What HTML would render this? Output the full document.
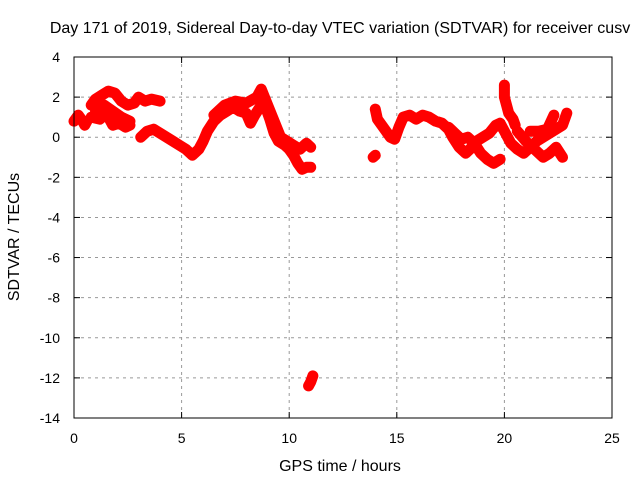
<!DOCTYPE html>
<html><head><meta charset="utf-8"><style>
body{margin:0;background:#fff}
svg text{font-family:"Liberation Sans",sans-serif;font-size:14px;fill:#000}
svg text.big{font-size:16px}
</style></head><body>
<svg id="c" width="640" height="480">
<text class="big" x="340" y="33" text-anchor="middle">Day 171 of 2019, Sidereal Day-to-day VTEC variation (SDTVAR) for receiver cusv</text>
<text class="big" x="340" y="471" text-anchor="middle">GPS time / hours</text>
<text class="big" transform="translate(19,237) rotate(-90)" text-anchor="middle">SDTVAR / TECUs</text>
<g id="grid"></g><g id="marks"></g>
<rect x="74" y="57" width="538" height="361" fill="none" stroke="#000"/>
</svg>
<script>
const xTicks=[0,5,10,15,20,25];
const yTicks=[4,2,0,-2,-4,-6,-8,-10,-12,-14];
const trackA_t=[0.0,0.2,0.4,0.5,0.6];
const trackA_v=[0.8,1.1,0.8,0.6,0.8];
const trackB_t=[0.8,1.0,1.3,1.6,1.9,2.2,2.5,2.8,3.0,3.3,3.6,4.0];
const trackB_v=[1.6,1.9,2.1,2.3,2.2,1.8,1.6,1.7,2.0,1.8,1.9,1.8];
const trackC_t=[0.8,1.2,1.5,1.8,2.1,2.4,2.6];
const trackC_v=[1.0,0.9,1.2,0.6,0.7,0.5,0.6];
const trackC2_t=[1.0,1.4,1.8,2.2,2.6];
const trackC2_v=[1.3,1.6,1.3,1.0,0.8];
const trackD_t=[3.1,3.4,3.7,4.0,4.3,4.6,4.9,5.2,5.5,5.8,6.0,6.2,6.5,6.8,7.1,7.4,7.7,8.0,8.2,8.4,8.7,8.9,9.1,9.3,9.5,9.8,10.0,10.2,10.4,10.6,10.8,11.0];
const trackD_v=[0.0,0.3,0.4,0.2,0.0,-0.2,-0.4,-0.6,-0.9,-0.6,-0.2,0.3,0.8,1.1,1.3,1.5,1.3,1.2,0.7,1.1,1.6,1.5,0.9,0.2,-0.2,-0.4,-0.6,-0.9,-1.3,-1.6,-1.5,-1.5];
const trackD2_t=[6.5,7.0,7.5,8.0,8.5,8.7,9.0,9.3,9.6,9.9,10.2,10.5,10.8,11.0];
const trackD2_v=[1.1,1.6,1.8,1.7,2.0,2.4,1.6,0.8,0.0,-0.2,-0.4,-0.6,-0.3,-0.5];
const spike_t=[10.9,11.0,11.1];
const spike_v=[-12.4,-12.2,-11.9];
const trackE_t=[13.9,14.0];
const trackE_v=[-1.0,-0.9];
const trackF_t=[14.0,14.1,14.3,14.5,14.7,14.9,15.1,15.3,15.6,15.9,16.2,16.5,16.8,17.1,17.4,17.6,17.9,18.2,18.4,18.7,19.0,19.3,19.6,19.8,20.0,20.3,20.6,20.9,21.2,21.5,21.8,22.1,22.4,22.7,22.9];
const trackF_v=[1.4,0.9,0.6,0.3,0.0,-0.1,0.5,1.0,1.1,0.9,1.1,1.0,0.8,0.7,0.4,0.0,-0.5,-0.8,-0.6,-0.2,0.0,0.2,0.6,0.7,0.3,-0.3,-0.6,-0.8,-0.5,-0.2,0.0,0.2,0.4,0.6,1.2];
const trackG_t=[17.4,17.7,18.0,18.3,18.6,18.9,19.2,19.5,19.8];
const trackG_v=[0.5,0.2,-0.1,0.0,-0.3,-0.8,-1.1,-1.3,-1.1];
const trackH_t=[20.0,20.0,20.1,20.2,20.4,20.5];
const trackH_v=[2.6,2.0,1.6,1.2,0.9,0.6];
const trackI_t=[20.6,21.0,21.4,21.8,22.1,22.4,22.7];
const trackI_v=[0.3,-0.2,-0.6,-1.0,-0.8,-0.5,-1.0];
const trackJ_t=[21.2,21.6,22.0,22.3];
const trackJ_v=[0.3,0.3,0.4,1.1];
const tracks=[[trackA_t,trackA_v],[trackB_t,trackB_v],[trackC_t,trackC_v],[trackC2_t,trackC2_v],[trackD_t,trackD_v],[trackD2_t,trackD2_v],[spike_t,spike_v],[trackE_t,trackE_v],[trackF_t,trackF_v],[trackG_t,trackG_v],[trackH_t,trackH_v],[trackI_t,trackI_v],[trackJ_t,trackJ_v]];
const X=t=>74+t*(538/25);
const Y=v=>57+(4-v)*(361/18);
const NS="http://www.w3.org/2000/svg";
const grid=document.getElementById('grid'),marks=document.getElementById('marks');
function mk(tag,attrs,parent){const e=document.createElementNS(NS,tag);for(const k in attrs)e.setAttribute(k,attrs[k]);parent.appendChild(e);return e;}
xTicks.forEach(t=>{
  const x=X(t);
  if(t>0&&t<25){const g=mk('line',{x1:x,x2:x,y1:57,y2:418,stroke:'#999','stroke-dasharray':'3,4'},grid);
  
  }
  mk('line',{x1:x,x2:x,y1:418,y2:412,stroke:'#000'},grid);
  mk('line',{x1:x,x2:x,y1:57,y2:63,stroke:'#000'},grid);
  const l=mk('text',{x:x,y:443,'text-anchor':'middle'},grid);l.textContent=t;
  
  
});
yTicks.forEach(v=>{
  const y=Y(v);
  if(v<4&&v>-14){const g=mk('line',{x1:74,x2:612,y1:y,y2:y,stroke:'#999','stroke-dasharray':'3,4'},grid);
  
  }
  mk('line',{x1:74,x2:80,y1:y,y2:y,stroke:'#000'},grid);
  mk('line',{x1:606,x2:612,y1:y,y2:y,stroke:'#000'},grid);
  const l=mk('text',{x:60,y:y+5,'text-anchor':'end'},grid);l.textContent=v;
  
  
});
tracks.forEach(([ts,vs])=>{
  const pts=ts.map((t,i)=>X(t)+','+Y(vs[i])).join(' ');
  const pl=mk('polyline',{points:pts,fill:'none',stroke:'#f00','stroke-width':11,'stroke-linejoin':'round','stroke-linecap':'round'},marks);
  
  
  ts.forEach((t,i)=>{
    const x=X(t),y=Y(vs[i]);
    const p=mk('path',{d:`M${x-4},${y}H${x+4}M${x},${y-4}V${y+4}`,stroke:'#f00','stroke-width':1.5},marks);
    
    
  });
});
</script>
</body></html>
